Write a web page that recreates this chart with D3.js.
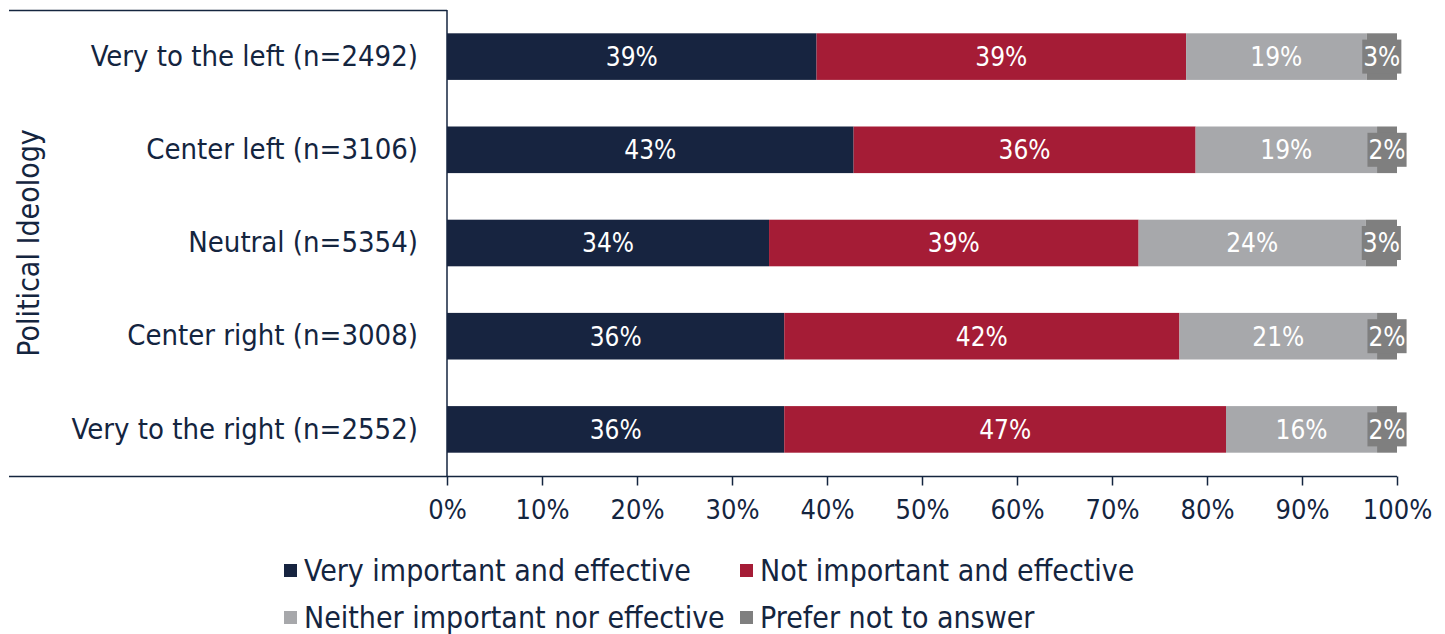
<!DOCTYPE html>
<html><head><meta charset="utf-8">
<script src="https://cdn.jsdelivr.net/npm/d3@7"></script>
<style>
html,body{margin:0;padding:0;background:#fff;}
svg text{font-family:"Liberation Sans Narrow","DejaVu Sans Condensed","Open Sans",sans-serif;}
</style></head>
<body>
<svg id="chart" width="1445" height="634"></svg>
<script>
const categories = ["Very to the left (n=2492)","Center left (n=3106)","Neutral (n=5354)","Center right (n=3008)","Very to the right (n=2552)"];
const seriesNames = ["Very important and effective","Not important and effective","Neither important nor effective","Prefer not to answer"];
const veryImportant = [38.9, 42.8, 33.9, 35.5, 35.5];
const notImportant = [38.9, 36.0, 38.9, 41.6, 46.5];
const neither = [19.0, 19.1, 23.9, 20.8, 15.9];
const preferNot = [3.2, 2.1, 3.3, 2.1, 2.1];
const labelsVery = ["39%","43%","34%","36%","36%"];
const labelsNot = ["39%","36%","39%","42%","47%"];
const labelsNeither = ["19%","19%","24%","21%","16%"];
const labelsPrefer = ["3%","2%","3%","2%","2%"];
const xTicks = [0,10,20,30,40,50,60,70,80,90,100];
const colors = ["#172440","#a51c36","#a7a8ab","#7f7f7f"];
const textColor = "#14253f";

const svg = d3.select("#chart");
const x = d3.scaleLinear().domain([0,100]).range([447,1397]);
const y = d3.scaleBand().domain(categories).range([10,476]).paddingInner(0.5).paddingOuter(0.25);

const series = [veryImportant, notImportant, neither, preferNot];
const labels = [labelsVery, labelsNot, labelsNeither, labelsPrefer];

// frame lines
svg.append("line").attr("x1",9).attr("x2",x(0)).attr("y1",10.5).attr("y2",10.5).attr("stroke",textColor).attr("stroke-width",1.5);
svg.append("line").attr("x1",9).attr("x2",x(100)).attr("y1",476.5).attr("y2",476.5).attr("stroke",textColor).attr("stroke-width",1.5);
svg.append("line").attr("x1",x(0)).attr("x2",x(0)).attr("y1",10).attr("y2",476).attr("stroke",textColor).attr("stroke-width",1.5);

// x axis
const xAxis = d3.axisBottom(x).tickValues(xTicks).tickFormat(d=>d+"%").tickSize(9).tickPadding(14);
const gx = svg.append("g").attr("transform","translate(0,476.5)").call(xAxis);
gx.select(".domain").remove();
gx.selectAll(".tick line").attr("stroke",textColor).attr("stroke-width",1.5);
gx.selectAll(".tick text").attr("fill",textColor).attr("font-size",27);

// y labels
const yAxis = d3.axisLeft(y).tickSize(0).tickPadding(29);
const gy = svg.append("g").attr("transform",`translate(${x(0)},0)`).call(yAxis);
gy.select(".domain").remove();
gy.selectAll(".tick text").attr("fill",textColor).attr("font-size",29);

// bars
categories.forEach((c,i)=>{
  let acc = 0;
  series.forEach((s,k)=>{
    const v = s[i];
    const x0 = acc, x1 = acc+v;
    acc = x1;
    svg.append("rect").attr("x",x(x0)).attr("y",y(c)).attr("width",x(x1)-x(x0)).attr("height",y.bandwidth()).attr("fill",colors[k]);
  });
});
// labels
categories.forEach((c,i)=>{
  let acc = 0;
  series.forEach((s,k)=>{
    const v = s[i];
    const cx = x(acc + v/2);
    acc += v;
    const cy = y(c)+y.bandwidth()/2;
    const t = svg.append("text").attr("x",cx).attr("y",cy).attr("dy","0.36em").attr("text-anchor","middle")
      .attr("fill","#fff").attr("font-size",26).text(labels[k][i]);
    if(k===3){
      const bb = t.node().getBBox();
      svg.insert("rect", () => t.node()).attr("x",bb.x-1).attr("y",cy-17).attr("width",bb.width+2).attr("height",34).attr("fill",colors[3]);
    }
  });
});

// y title
svg.append("text").attr("transform","translate(39,243) rotate(-90)").attr("text-anchor","middle")
  .attr("fill",textColor).attr("font-size",30).text("Political Ideology");

// legend
const legendPos = [[284,570],[740,570],[284,617],[740,617]];
seriesNames.forEach((n,k)=>{
  const [lx,ly] = legendPos[k];
  svg.append("rect").attr("x",lx).attr("y",ly-6).attr("width",13).attr("height",13).attr("fill",colors[k]);
  svg.append("text").attr("x",lx+20).attr("y",ly).attr("dy","0.36em").attr("fill",textColor).attr("font-size",30).text(n);
});
</script>
</body></html>
